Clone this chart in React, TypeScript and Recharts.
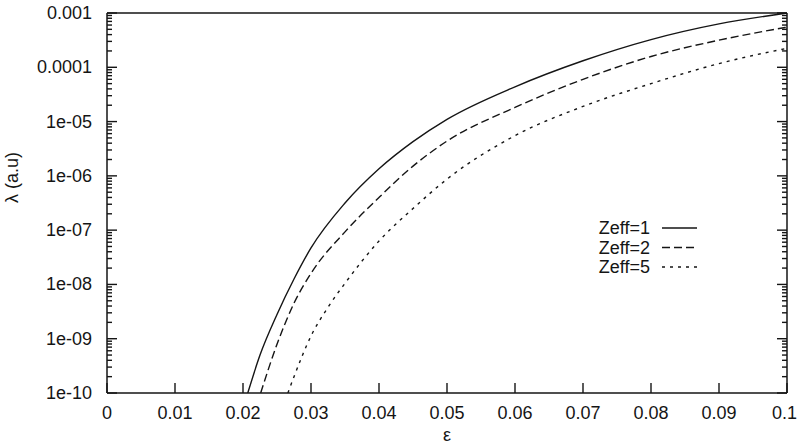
import { LineChart, Line, XAxis, YAxis } from "recharts";

// x axis (epsilon)
const epsTicks = [0, 0.01, 0.02, 0.03, 0.04, 0.05, 0.06, 0.07, 0.08, 0.09, 0.1];
const epsTickLabels = ["0", "0.01", "0.02", "0.03", "0.04", "0.05", "0.06", "0.07", "0.08", "0.09", "0.1"];

// y axis (lambda, log)
const lambdaTicks = [1e-10, 1e-9, 1e-8, 1e-7, 1e-6, 1e-5, 1e-4, 1e-3];
const lambdaTickLabels = ["1e-10", "1e-09", "1e-08", "1e-07", "1e-06", "1e-05", "0.0001", "0.001"];

// curves
const epsZ1 = [0.0207, 0.0225, 0.025, 0.0275, 0.03, 0.035, 0.04, 0.045, 0.05, 0.06, 0.07, 0.08, 0.09, 0.1];
const lamZ1 = [1e-10, 5.0e-10, 2.8e-9, 1.26e-8, 4.7e-8, 3.16e-7, 1.35e-6, 4.27e-6, 1.1e-5, 4.37e-5, 1.32e-4, 3.24e-4, 6.3e-4, 1e-3];

const epsZ2 = [0.0226, 0.025, 0.0275, 0.03, 0.035, 0.04, 0.045, 0.05, 0.06, 0.07, 0.08, 0.09, 0.1];
const lamZ2 = [1e-10, 7.9e-10, 4.5e-9, 1.6e-8, 9.3e-8, 4.0e-7, 1.51e-6, 4.37e-6, 1.82e-5, 6.0e-5, 1.58e-4, 3.16e-4, 5.5e-4];

const epsZ5 = [0.0266, 0.0275, 0.03, 0.0325, 0.035, 0.04, 0.045, 0.05, 0.06, 0.07, 0.08, 0.09, 0.1];
const lamZ5 = [1e-10, 2.0e-10, 1.12e-9, 3.8e-9, 1.05e-8, 6.3e-8, 2.5e-7, 8.7e-7, 5.5e-6, 1.9e-5, 5.0e-5, 1.17e-4, 2.24e-4];

const toPoints = (xs: number[], ys: number[]) => xs.map((x, i) => ({ eps: x, lambda: ys[i] }));

// minor ticks 2..9 per decade
const minorTicks: number[] = [];
lambdaTicks.slice(0, -1).forEach((d) => {
  for (let m = 2; m <= 9; m++) minorTicks.push(m * d);
});
const allLambdaTicks = [...lambdaTicks, ...minorTicks];

const majorIndex = (v: number) =>
  lambdaTicks.findIndex((t) => Math.abs(Math.log10(v) - Math.log10(t)) < 1e-6);

const ink = "#151515";
const font = "'Liberation Sans', Arial, sans-serif";
const fs = 18;

const YTick = (props: any) => {
  const x = Number(props.x);
  const y = Number(props.y);
  const idx = majorIndex(Number(props.payload.value));
  const len = idx >= 0 ? 10 : 5;
  const dir = props.side === "left" ? 1 : -1;
  return (
    <g>
      <path d={`M${x},${y}H${x + dir * len}`} stroke={ink} strokeWidth={1.4} fill="none" />
      {props.side === "left" && idx >= 0 && (
        <text x={x - 15} y={y} textAnchor="end" dominantBaseline="central" fontSize={fs} fontFamily={font} fill={ink} stroke="none">
          {lambdaTickLabels[idx]}
        </text>
      )}
    </g>
  );
};

const XTick = (props: any) => {
  const x = Number(props.x);
  const y = Number(props.y);
  const dir = props.side === "bottom" ? -1 : 1;
  const idx = epsTicks.indexOf(Number(props.payload.value));
  const last = idx === epsTicks.length - 1;
  return (
    <g>
      <path d={`M${x},${y}V${y + dir * 10}`} stroke={ink} strokeWidth={1.4} fill="none" />
      {props.side === "bottom" && (
        <text
          x={last ? 797 : x}
          y={y + 20}
          textAnchor={last ? "end" : "middle"}
          dominantBaseline="central"
          fontSize={fs}
          fontFamily={font}
          fill={ink}
          stroke="none"
        >
          {epsTickLabels[idx]}
        </text>
      )}
    </g>
  );
};

const series = [
  { name: "Zeff=1", data: toPoints(epsZ1, lamZ1), dash: undefined as string | undefined },
  { name: "Zeff=2", data: toPoints(epsZ2, lamZ2), dash: "8 4" },
  { name: "Zeff=5", data: toPoints(epsZ5, lamZ5), dash: "3 5" },
];

const LegendBox = () => (
  <svg width={150} height={60} style={{ position: "absolute", left: 560, top: 218 }}>
    {series.map((s, i) => (
      <g key={s.name}>
        <text x={90} y={10 + i * 19.5} textAnchor="end" dominantBaseline="central" fontSize={fs} fontFamily={font} fill={ink}>
          {s.name}
        </text>
        <line x1={102} x2={137} y1={10 + i * 19.5} y2={10 + i * 19.5} stroke={ink} strokeWidth={1.4} strokeDasharray={s.dash} />
      </g>
    ))}
  </svg>
);

export default function App() {
  return (
    <div style={{ position: "absolute", left: 0, top: 0, width: 798, height: 447, background: "#fff" }}>
      <LineChart width={798} height={447} margin={{ top: 0, right: 0, bottom: 0, left: 0 }}>
        <XAxis
          xAxisId="bottom"
          dataKey="eps"
          type="number"
          domain={[0, 0.1]}
          ticks={epsTicks}
          interval={0}
          allowDataOverflow
          height={54}
          tickSize={0}
          tickMargin={0}
          tickLine={false}
          axisLine={{ stroke: ink, strokeWidth: 1.5 }}
          tick={(p: any) => <XTick {...p} side="bottom" />}
          label={{ value: "ε", position: "insideBottom", offset: 6, fontSize: fs, fontFamily: font, fill: ink }}
        />
        <XAxis
          xAxisId="top"
          orientation="top"
          type="number"
          domain={[0, 0.1]}
          ticks={epsTicks}
          interval={0}
          allowDataOverflow
          height={13}
          tickSize={0}
          tickMargin={0}
          tickLine={false}
          axisLine={{ stroke: ink, strokeWidth: 1.5 }}
          tick={(p: any) => <XTick {...p} side="top" />}
        />
        <YAxis
          yAxisId="left"
          dataKey="lambda"
          scale="log"
          type="number"
          domain={[1e-10, 1e-3]}
          ticks={allLambdaTicks}
          interval={0}
          allowDataOverflow
          width={107}
          tickSize={0}
          tickMargin={0}
          tickLine={false}
          axisLine={{ stroke: ink, strokeWidth: 1.5 }}
          tick={(p: any) => <YTick {...p} side="left" />}
          label={{ value: "λ (a.u)", angle: -90, position: "insideLeft", offset: 12, fontSize: fs, fontFamily: font, fill: ink }}
        />
        <YAxis
          yAxisId="right"
          orientation="right"
          scale="log"
          type="number"
          domain={[1e-10, 1e-3]}
          ticks={allLambdaTicks}
          interval={0}
          allowDataOverflow
          width={11}
          tickSize={0}
          tickMargin={0}
          tickLine={false}
          axisLine={{ stroke: ink, strokeWidth: 1.5 }}
          tick={(p: any) => <YTick {...p} side="right" />}
        />
        {series.map((s) => (
          <Line
            key={s.name}
            name={s.name}
            data={s.data}
            dataKey="lambda"
            xAxisId="bottom"
            yAxisId="left"
            type="monotone"
            stroke={ink}
            strokeWidth={1.4}
            strokeDasharray={s.dash}
            dot={false}
            isAnimationActive={false}
          />
        ))}
      </LineChart>
      <LegendBox />
    </div>
  );
}
